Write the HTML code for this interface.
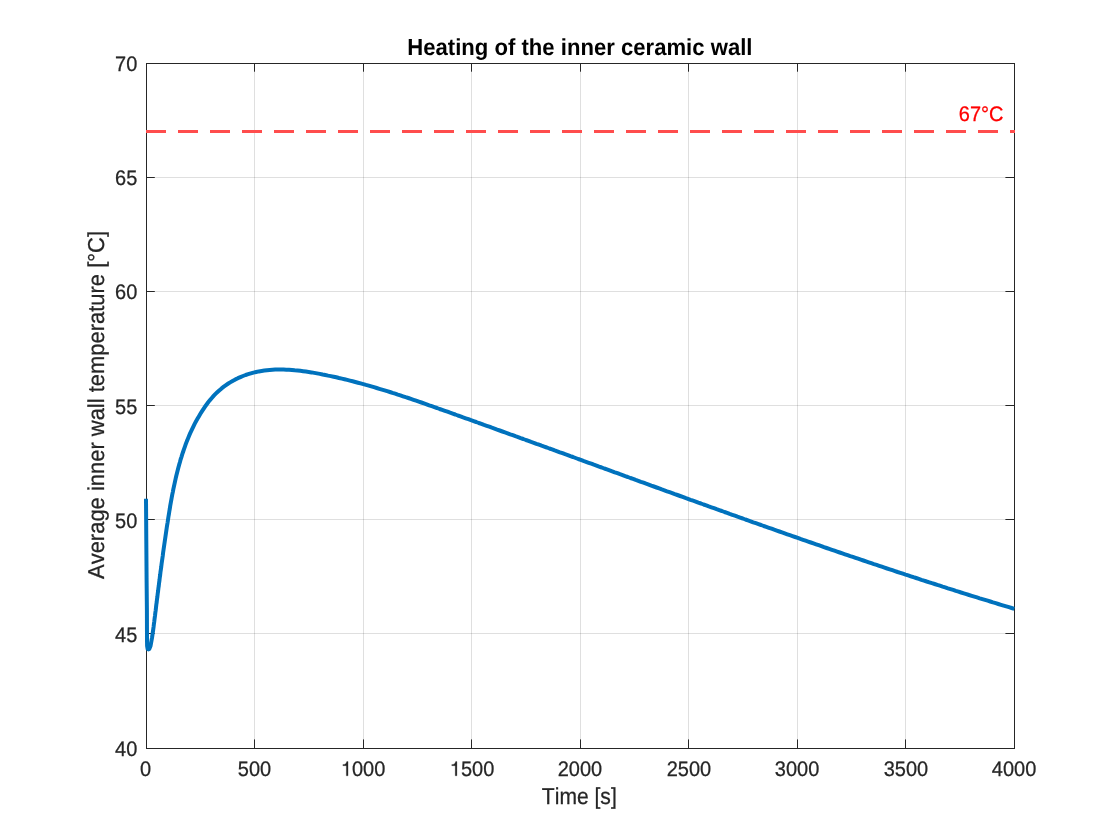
<!DOCTYPE html>
<html><head><meta charset="utf-8"><title>Heating of the inner ceramic wall</title>
<style>
html,body{margin:0;padding:0;background:#fff;}
body{width:1120px;height:840px;overflow:hidden;}
svg{display:block;will-change:transform;}
text{font-family:"Liberation Sans",sans-serif;text-rendering:geometricPrecision;font-kerning:none;font-variant-ligatures:none;fill:#262626;stroke:#262626;stroke-width:0.25px;}
.tk{font-size:20px;}
.lb{font-size:22px;}
</style></head><body>
<svg width="1120" height="840" viewBox="0 0 1120 840">
<rect x="0" y="0" width="1120" height="840" fill="#ffffff"/>
<g fill="#262626" fill-opacity="0.15" shape-rendering="crispEdges">
<rect x="254" y="64" width="1" height="684"/>
<rect x="363" y="64" width="1" height="684"/>
<rect x="471" y="64" width="1" height="684"/>
<rect x="580" y="64" width="1" height="684"/>
<rect x="688" y="64" width="1" height="684"/>
<rect x="797" y="64" width="1" height="684"/>
<rect x="905" y="64" width="1" height="684"/>
<rect x="147" y="177" width="867" height="1"/>
<rect x="147" y="291" width="867" height="1"/>
<rect x="147" y="405" width="867" height="1"/>
<rect x="147" y="519" width="867" height="1"/>
<rect x="147" y="633" width="867" height="1"/>
</g>
<g fill="#262626" shape-rendering="crispEdges">
<rect x="146" y="63" width="869" height="1"/>
<rect x="146" y="748" width="869" height="1"/>
<rect x="146" y="63" width="1" height="686"/>
<rect x="1014" y="63" width="1" height="686"/>
</g>
<g fill="#262626">
<rect x="254" y="739.4" width="1" height="8.6"/>
<rect x="254" y="64" width="1" height="7.7"/>
<rect x="363" y="739.4" width="1" height="8.6"/>
<rect x="363" y="64" width="1" height="7.7"/>
<rect x="471" y="739.4" width="1" height="8.6"/>
<rect x="471" y="64" width="1" height="7.7"/>
<rect x="580" y="739.4" width="1" height="8.6"/>
<rect x="580" y="64" width="1" height="7.7"/>
<rect x="688" y="739.4" width="1" height="8.6"/>
<rect x="688" y="64" width="1" height="7.7"/>
<rect x="797" y="739.4" width="1" height="8.6"/>
<rect x="797" y="64" width="1" height="7.7"/>
<rect x="905" y="739.4" width="1" height="8.6"/>
<rect x="905" y="64" width="1" height="7.7"/>
<rect x="147" y="177" width="7.8" height="1"/>
<rect x="1005.4" y="177" width="8.6" height="1"/>
<rect x="147" y="291" width="7.8" height="1"/>
<rect x="1005.4" y="291" width="8.6" height="1"/>
<rect x="147" y="405" width="7.8" height="1"/>
<rect x="1005.4" y="405" width="8.6" height="1"/>
<rect x="147" y="519" width="7.8" height="1"/>
<rect x="1005.4" y="519" width="8.6" height="1"/>
<rect x="147" y="633" width="7.8" height="1"/>
<rect x="1005.4" y="633" width="8.6" height="1"/>
</g>
<path d="M146.0,498.7 L146.3,540.0 L146.6,580.0 L146.9,610.0 L147.0,640.0 L147.1,646.0 L147.6,648.8 L148.5,649.5 L149.4,648.8 L150.5,646.1 L151.0,643.4 L151.5,640.6 L152.0,637.9 L152.4,635.1 L152.8,632.4 L153.2,629.6 L153.6,626.8 L153.9,624.1 L154.3,621.3 L154.6,618.6 L155.0,615.8 L155.3,613.0 L155.7,610.3 L156.0,607.5 L156.3,604.8 L156.7,602.1 L157.0,599.3 L157.4,596.6 L157.7,593.8 L158.1,591.1 L158.4,588.3 L158.8,585.6 L159.1,582.9 L159.5,580.1 L159.8,577.4 L160.2,574.6 L160.5,571.9 L160.9,569.2 L161.3,566.4 L161.6,563.7 L162.0,561.0 L162.4,558.2 L162.8,555.5 L163.1,552.7 L163.5,550.0 L163.9,547.3 L164.3,544.5 L164.7,541.8 L165.1,539.0 L165.5,536.3 L165.9,533.5 L166.3,530.8 L166.7,528.0 L167.1,525.3 L167.6,522.5 L168.0,519.8 L168.4,517.0 L168.9,514.2 L169.3,511.5 L169.8,508.7 L170.2,505.9 L170.7,503.2 L171.2,500.4 L171.7,497.6 L172.2,494.9 L172.8,492.1 L173.3,489.4 L173.9,486.6 L174.5,483.9 L175.1,481.1 L175.7,478.4 L176.3,475.7 L177.0,473.0 L177.7,470.3 L178.4,467.6 L179.1,464.9 L179.9,462.2 L180.6,459.5 L181.5,456.8 L182.3,454.2 L183.2,451.5 L184.1,448.9 L185.0,446.3 L185.9,443.7 L186.9,441.1 L188.0,438.5 L189.0,436.0 L190.1,433.4 L191.3,430.9 L192.5,428.4 L193.7,425.9 L194.9,423.4 L196.2,421.0 L197.6,418.6 L199.0,416.2 L200.4,413.8 L201.9,411.4 L203.4,409.1 L204.9,406.8 L206.6,404.5 L208.2,402.3 L210.0,400.1 L211.8,398.0 L213.6,395.9 L215.5,393.9 L217.5,392.0 L219.5,390.2 L221.6,388.4 L223.8,386.7 L226.0,385.1 L228.3,383.5 L230.6,382.1 L233.0,380.7 L235.4,379.4 L237.9,378.2 L240.4,377.1 L243.0,376.0 L245.6,375.0 L248.2,374.2 L250.8,373.4 L253.5,372.6 L256.2,372.0 L258.8,371.4 L261.6,371.0 L264.3,370.6 L267.0,370.2 L269.7,370.0 L272.5,369.8 L275.2,369.6 L278.0,369.6 L280.8,369.5 L283.6,369.6 L286.3,369.7 L289.1,369.8 L291.9,370.0 L294.7,370.3 L297.5,370.5 L300.3,370.8 L303.1,371.2 L305.9,371.6 L308.7,372.0 L311.5,372.4 L314.3,372.9 L317.0,373.4 L319.8,373.9 L322.6,374.5 L325.3,375.0 L328.1,375.6 L330.8,376.1 L333.6,376.7 L336.3,377.3 L339.0,378.0 L341.8,378.6 L344.5,379.2 L347.2,379.9 L349.9,380.6 L352.6,381.3 L355.3,382.0 L358.0,382.7 L360.6,383.4 L363.3,384.1 L366.0,384.9 L368.7,385.6 L371.3,386.4 L374.0,387.2 L376.7,388.0 L379.3,388.8 L382.0,389.6 L384.6,390.4 L387.2,391.2 L389.9,392.0 L392.5,392.9 L395.2,393.7 L397.8,394.6 L400.4,395.4 L403.0,396.3 L405.7,397.2 L408.3,398.0 L410.9,398.9 L413.5,399.8 L416.1,400.7 L418.8,401.6 L421.4,402.5 L424.0,403.4 L426.6,404.3 L429.2,405.3 L431.8,406.2 L434.4,407.1 L437.0,408.0 L439.6,409.0 L442.2,409.9 L444.9,410.8 L447.5,411.7 L450.1,412.7 L452.7,413.6 L455.3,414.5 L457.9,415.5 L460.5,416.4 L463.1,417.4 L465.7,418.3 L468.4,419.2 L471.0,420.2 L473.6,421.1 L476.2,422.0 L478.8,423.0 L481.4,423.9 L484.0,424.9 L486.7,425.8 L489.3,426.7 L491.9,427.7 L494.5,428.6 L497.1,429.6 L499.7,430.5 L502.4,431.5 L505.0,432.4 L507.6,433.3 L510.2,434.3 L512.8,435.2 L515.4,436.2 L518.1,437.1 L520.7,438.1 L523.3,439.0 L525.9,440.0 L528.5,440.9 L531.1,441.9 L533.8,442.8 L536.4,443.8 L539.0,444.7 L541.6,445.7 L544.2,446.6 L546.8,447.5 L549.4,448.5 L552.1,449.4 L554.7,450.4 L557.3,451.3 L559.9,452.3 L562.5,453.2 L565.1,454.2 L567.8,455.1 L570.4,456.1 L573.0,457.0 L575.6,458.0 L578.2,459.0 L580.8,459.9 L583.4,460.9 L586.0,461.8 L588.7,462.8 L591.3,463.7 L593.9,464.7 L596.5,465.6 L599.1,466.6 L601.7,467.5 L604.3,468.5 L606.9,469.4 L609.6,470.4 L612.2,471.3 L614.8,472.3 L617.4,473.2 L620.0,474.2 L622.6,475.1 L625.2,476.1 L627.8,477.0 L630.4,478.0 L633.1,478.9 L635.7,479.9 L638.3,480.8 L640.9,481.8 L643.5,482.7 L646.1,483.7 L648.7,484.6 L651.3,485.6 L653.9,486.5 L656.6,487.5 L659.2,488.4 L661.8,489.4 L664.4,490.3 L667.0,491.3 L669.6,492.2 L672.2,493.1 L674.8,494.1 L677.4,495.0 L680.1,496.0 L682.7,496.9 L685.3,497.9 L687.9,498.8 L690.5,499.8 L693.1,500.7 L695.7,501.6 L698.3,502.6 L701.0,503.5 L703.6,504.5 L706.2,505.4 L708.8,506.4 L711.4,507.3 L714.0,508.2 L716.6,509.2 L719.2,510.1 L721.9,511.0 L724.5,512.0 L727.1,512.9 L729.7,513.9 L732.3,514.8 L734.9,515.7 L737.5,516.7 L740.2,517.6 L742.8,518.5 L745.4,519.5 L748.0,520.4 L750.6,521.3 L753.2,522.3 L755.9,523.2 L758.5,524.1 L761.1,525.0 L763.7,526.0 L766.3,526.9 L768.9,527.8 L771.6,528.7 L774.2,529.7 L776.8,530.6 L779.4,531.5 L782.0,532.4 L784.7,533.4 L787.3,534.3 L789.9,535.2 L792.5,536.1 L795.1,537.0 L797.8,537.9 L800.4,538.9 L803.0,539.8 L805.6,540.7 L808.2,541.6 L810.9,542.5 L813.5,543.4 L816.1,544.3 L818.7,545.2 L821.4,546.1 L824.0,547.1 L826.6,548.0 L829.2,548.9 L831.9,549.8 L834.5,550.7 L837.1,551.6 L839.7,552.5 L842.4,553.4 L845.0,554.3 L847.6,555.2 L850.2,556.1 L852.9,556.9 L855.5,557.8 L858.1,558.7 L860.8,559.6 L863.4,560.5 L866.0,561.4 L868.7,562.3 L871.3,563.2 L873.9,564.1 L876.6,564.9 L879.2,565.8 L881.8,566.7 L884.5,567.6 L887.1,568.5 L889.7,569.3 L892.4,570.2 L895.0,571.1 L897.6,572.0 L900.3,572.8 L902.9,573.7 L905.6,574.6 L908.2,575.4 L910.8,576.3 L913.5,577.2 L916.1,578.0 L918.8,578.9 L921.4,579.8 L924.0,580.6 L926.7,581.5 L929.3,582.3 L932.0,583.2 L934.6,584.0 L937.3,584.9 L939.9,585.7 L942.6,586.6 L945.2,587.4 L947.9,588.3 L950.5,589.1 L953.2,589.9 L955.8,590.8 L958.5,591.6 L961.1,592.5 L963.8,593.3 L966.4,594.1 L969.1,595.0 L971.7,595.8 L974.4,596.6 L977.0,597.4 L979.7,598.3 L982.4,599.1 L985.0,599.9 L987.7,600.7 L990.3,601.5 L993.0,602.4 L995.7,603.2 L998.3,604.0 L1001.0,604.8 L1003.6,605.6 L1006.3,606.4 L1009.0,607.2 L1011.6,608.0 L1014.3,608.8" fill="none" stroke="#0072bd" stroke-width="4" stroke-linejoin="round" stroke-linecap="butt"/>
<line x1="146" y1="131.4" x2="1015" y2="131.4" stroke="#ff4d4d" stroke-width="3" stroke-dasharray="20 12"/>
<text class="tk" transform="translate(1003.5,120.9) scale(1.0,1.05)" text-anchor="end" style="fill:#ff0000;stroke:#ff0000">67°C</text>
<text class="tk" transform="translate(145.5,775.8) scale(1.0,1.05)" text-anchor="middle">0</text>
<text class="tk" transform="translate(254.5,775.8) scale(1.0,1.05)" text-anchor="middle">500</text>
<path d="M7.18,0L5.46,0L5.46,-10.1L2.02,-10.1L2.02,-11.26C4.0,-11.26 5.4,-12.0 5.92,-14.18L7.18,-14.18Z" transform="translate(340.86,775.8)" fill="#262626" stroke="#262626" stroke-width="0.25"/>
<text class="tk" transform="translate(351.98,775.8) scale(1.0,1.05)" text-anchor="start">000</text>
<path d="M7.18,0L5.46,0L5.46,-10.1L2.02,-10.1L2.02,-11.26C4.0,-11.26 5.4,-12.0 5.92,-14.18L7.18,-14.18Z" transform="translate(449.76,775.8)" fill="#262626" stroke="#262626" stroke-width="0.25"/>
<text class="tk" transform="translate(460.88,775.8) scale(1.0,1.05)" text-anchor="start">500</text>
<text class="tk" transform="translate(579.9,775.8) scale(1.0,1.05)" text-anchor="middle">2000</text>
<text class="tk" transform="translate(689.0,775.8) scale(1.0,1.05)" text-anchor="middle">2500</text>
<text class="tk" transform="translate(797.1,775.8) scale(1.0,1.05)" text-anchor="middle">3000</text>
<text class="tk" transform="translate(905.9,775.8) scale(1.0,1.05)" text-anchor="middle">3500</text>
<text class="tk" transform="translate(1014.1,775.8) scale(1.0,1.05)" text-anchor="middle">4000</text>
<text class="tk" transform="translate(137.3,755.8) scale(1.0,1.05)" text-anchor="end">40</text>
<text class="tk" transform="translate(137.3,641.7) scale(1.0,1.05)" text-anchor="end">45</text>
<text class="tk" transform="translate(137.3,527.75) scale(1.0,1.05)" text-anchor="end">50</text>
<text class="tk" transform="translate(137.3,413.8) scale(1.0,1.05)" text-anchor="end">55</text>
<text class="tk" transform="translate(137.3,299.0) scale(1.0,1.05)" text-anchor="end">60</text>
<text class="tk" transform="translate(137.3,185.0) scale(1.0,1.05)" text-anchor="end">65</text>
<text class="tk" transform="translate(137.3,70.85) scale(1.0,1.05)" text-anchor="end">70</text>
<text class="lb" transform="translate(579.3,803.9) scale(0.957,1.045)" text-anchor="middle">Time [s]</text>
<text class="lb" transform="translate(104.2,405.0) rotate(-90) scale(0.9977,1.045)" text-anchor="middle">Average inner wall temperature [°C]</text>
<text class="lb" transform="translate(579.85,55) scale(1.005,1.06)" text-anchor="middle" style="font-weight:bold;fill:#000000;stroke:none">Heating of the inner ceramic wall</text>
</svg></body></html>
